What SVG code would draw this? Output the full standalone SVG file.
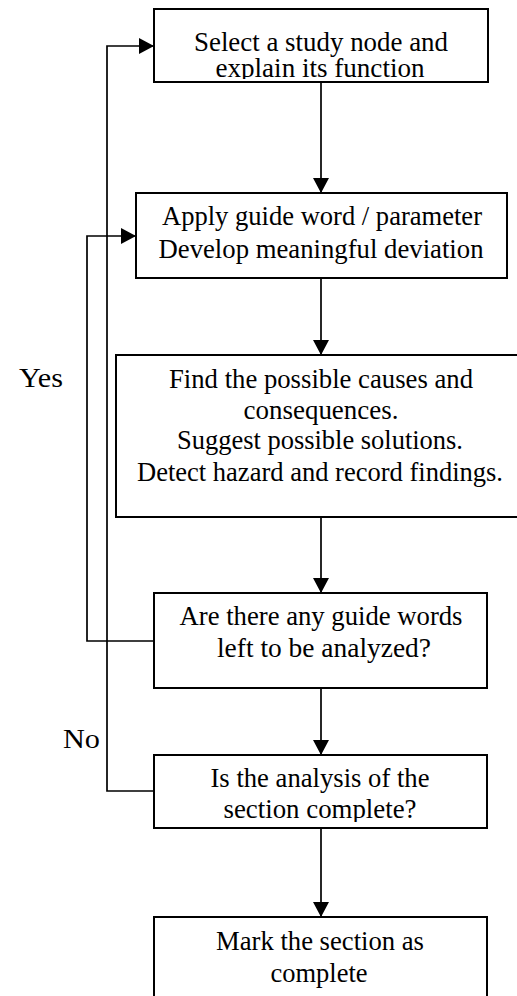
<svg xmlns="http://www.w3.org/2000/svg" width="517" height="996" viewBox="0 0 517 996">
  <style>
    .box { fill: #fff; stroke: #000; stroke-width: 2; }
    .lbl { font-family: "Liberation Serif", "Times New Roman", serif; font-size: 26.5px; fill: #000; }
    .side { font-size: 27px; }
    .mid { text-anchor: middle; }
    .wire { fill: none; stroke: #000; stroke-width: 1.7; }
  </style>
  <defs>
    <marker id="arrow" markerUnits="userSpaceOnUse" markerWidth="16" markerHeight="16" viewBox="0 0 15 16" refX="15" refY="8" orient="auto">
      <path d="M0,0 L15,8 L0,16 Z" fill="#000"/>
    </marker>
    <clipPath id="clip-n1"><rect x="154" y="9" width="334" height="70"/></clipPath>
    <clipPath id="clip-n5"><rect x="154" y="755" width="333" height="67"/></clipPath>
  </defs>

  <!-- connectors -->
  <g id="connectors">
    <path class="wire" d="M321,82 V193" marker-end="url(#arrow)"/>
    <path class="wire" d="M321,278 V355" marker-end="url(#arrow)"/>
    <path class="wire" d="M321,517 V593" marker-end="url(#arrow)"/>
    <path class="wire" d="M321,688 V755" marker-end="url(#arrow)"/>
    <path class="wire" d="M321,828 V917" marker-end="url(#arrow)"/>
    <!-- Yes: back to next guide word -->
    <path class="wire" d="M154,641 H87 V236 H136" marker-end="url(#arrow)"/>
    <!-- No: back to next study node -->
    <path class="wire" d="M154,791 H107 V46 H154" marker-end="url(#arrow)"/>
    <text class="lbl side" x="19" y="387" textLength="44" lengthAdjust="spacingAndGlyphs">Yes</text>
    <text class="lbl side" x="63" y="748" textLength="37" lengthAdjust="spacingAndGlyphs">No</text>
  </g>

  <g id="n1">
    <rect class="box" x="154" y="9" width="334" height="73"/>
    <g clip-path="url(#clip-n1)">
      <text class="lbl mid" x="321" y="51" textLength="254" lengthAdjust="spacingAndGlyphs">Select a study node and</text>
      <text class="lbl mid" x="320" y="77" textLength="209" lengthAdjust="spacingAndGlyphs">explain its function</text>
    </g>
  </g>

  <g id="n2">
    <rect class="box" x="136" y="193" width="371" height="85"/>
    <text class="lbl mid" x="322" y="225" textLength="320" lengthAdjust="spacingAndGlyphs">Apply guide word / parameter</text>
    <text class="lbl mid" x="321" y="258" textLength="325" lengthAdjust="spacingAndGlyphs">Develop meaningful deviation</text>
  </g>

  <g id="n3">
    <rect class="box" x="116" y="355" width="420" height="162"/>
    <text class="lbl mid" x="321" y="388" textLength="304" lengthAdjust="spacingAndGlyphs">Find the possible causes and</text>
    <text class="lbl mid" x="321" y="419" textLength="155" lengthAdjust="spacingAndGlyphs">consequences.</text>
    <text class="lbl mid" x="320" y="449" textLength="286" lengthAdjust="spacingAndGlyphs">Suggest possible solutions.</text>
    <text class="lbl mid" x="320" y="481" textLength="366" lengthAdjust="spacingAndGlyphs">Detect hazard and record findings.</text>
  </g>

  <g id="n4">
    <rect class="box" x="154" y="593" width="333" height="95"/>
    <text class="lbl mid" x="321" y="625" textLength="283" lengthAdjust="spacingAndGlyphs">Are there any guide words</text>
    <text class="lbl mid" x="324" y="657" textLength="214" lengthAdjust="spacingAndGlyphs">left to be analyzed?</text>
  </g>

  <g id="n5">
    <rect class="box" x="154" y="755" width="333" height="73"/>
    <g clip-path="url(#clip-n5)">
      <text class="lbl mid" x="320" y="787" textLength="219" lengthAdjust="spacingAndGlyphs">Is the analysis of the</text>
      <text class="lbl mid" x="320" y="818" textLength="193" lengthAdjust="spacingAndGlyphs">section complete?</text>
    </g>
  </g>

  <g id="n6">
    <rect class="box" x="154" y="917" width="333" height="100"/>
    <text class="lbl mid" x="320" y="950" textLength="208" lengthAdjust="spacingAndGlyphs">Mark the section as</text>
    <text class="lbl mid" x="319" y="982" textLength="97" lengthAdjust="spacingAndGlyphs">complete</text>
  </g>
</svg>
